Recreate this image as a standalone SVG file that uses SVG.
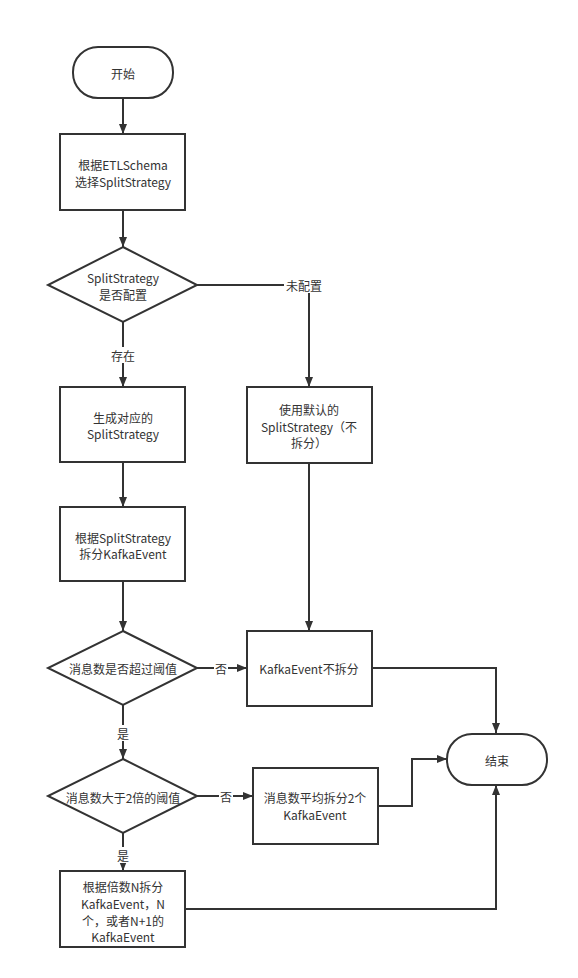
<svg xmlns="http://www.w3.org/2000/svg" width="578" height="978" viewBox="0 0 578 978">
<style>
.s{fill:#fff;stroke:#333;stroke-width:2}
.c{fill:none;stroke:#333;stroke-width:2}
text{font-family:"Noto Sans CJK SC","Liberation Sans",sans-serif;font-size:12px;fill:#333;text-anchor:middle;dominant-baseline:central}
.lb{fill:#fff}
</style>
<defs>
<marker id="a" markerWidth="10" markerHeight="8" refX="10" refY="4" orient="auto" markerUnits="userSpaceOnUse">
<path d="M0,0 L10,4 L0,8 Z" fill="#333"/>
</marker>
</defs>
<rect width="578" height="978" fill="#fff"/>
<g id="connectors">
<path class="c" d="M123,98 V134" marker-end="url(#a)"/>
<path class="c" d="M123,210 V247" marker-end="url(#a)"/>
<path class="c" d="M197,285 H309 V387" marker-end="url(#a)"/>
<path class="c" d="M123,322 V387" marker-end="url(#a)"/>
<path class="c" d="M123,462 V507" marker-end="url(#a)"/>
<path class="c" d="M123,581 V631" marker-end="url(#a)"/>
<path class="c" d="M309,463 V631" marker-end="url(#a)"/>
<path class="c" d="M197,668 H247" marker-end="url(#a)"/>
<path class="c" d="M372,668 H496 V733" marker-end="url(#a)"/>
<path class="c" d="M123,705 V759" marker-end="url(#a)"/>
<path class="c" d="M197,796 H253" marker-end="url(#a)"/>
<path class="c" d="M378,806 H412 V759 H447" marker-end="url(#a)"/>
<path class="c" d="M123,833 V871" marker-end="url(#a)"/>
<path class="c" d="M185,909 H496 V785" marker-end="url(#a)"/>
<rect class="lb" x="284" y="277" width="40" height="16"/>
<text x="304" y="285">未配置</text>
<rect class="lb" x="110" y="347" width="26" height="16"/>
<text x="123" y="355">存在</text>
<rect class="lb" x="214" y="660" width="14" height="16"/>
<text x="221" y="668">否</text>
<rect class="lb" x="116" y="725" width="14" height="16"/>
<text x="123" y="733">是</text>
<rect class="lb" x="219" y="788" width="14" height="16"/>
<text x="226" y="796">否</text>
<rect class="lb" x="116" y="847" width="14" height="16"/>
<text x="123" y="855">是</text>
</g>
<g id="start">
<rect class="s" x="73" y="47" width="100" height="51" rx="25" ry="25"/>
<text x="123" y="73">开始</text>
</g>
<g id="select">
<rect class="s" x="60" y="134" width="125" height="76"/>
<text x="123" y="164">根据ETLSchema</text>
<text x="123" y="181">选择SplitStrategy</text>
</g>
<g id="configured">
<polygon class="s" points="123,247 197,285 123,322 48,285"/>
<text x="123" y="277">SplitStrategy</text>
<text x="123" y="294">是否配置</text>
</g>
<g id="generate">
<rect class="s" x="60" y="387" width="125" height="75"/>
<text x="123" y="417">生成对应的</text>
<text x="123" y="433">SplitStrategy</text>
</g>
<g id="default">
<rect class="s" x="247" y="387" width="125" height="76"/>
<text x="309" y="409">使用默认的</text>
<text x="309" y="426">SplitStrategy（不</text>
<text x="309" y="442">拆分）</text>
</g>
<g id="split">
<rect class="s" x="60" y="507" width="125" height="74"/>
<text x="123" y="537">根据SplitStrategy</text>
<text x="123" y="553">拆分KafkaEvent</text>
</g>
<g id="exceed">
<polygon class="s" points="123,631 197,668 123,705 48,668"/>
<text x="123" y="668">消息数是否超过阈值</text>
</g>
<g id="nosplit">
<rect class="s" x="247" y="631" width="125" height="75"/>
<text x="309" y="668">KafkaEvent不拆分</text>
</g>
<g id="end">
<rect class="s" x="447" y="734" width="100" height="51" rx="25" ry="25"/>
<text x="497" y="760">结束</text>
</g>
<g id="double">
<polygon class="s" points="123,759 197,796 123,833 48,796"/>
<text x="123" y="797">消息数大于2倍的阈值</text>
</g>
<g id="half">
<rect class="s" x="253" y="768" width="125" height="76"/>
<text x="315" y="797">消息数平均拆分2个</text>
<text x="315" y="814">KafkaEvent</text>
</g>
<g id="multi">
<rect class="s" x="60" y="871" width="125" height="76"/>
<text x="123" y="886">根据倍数N拆分</text>
<text x="123" y="903">KafkaEvent，N</text>
<text x="123" y="920">个，或者N+1的</text>
<text x="123" y="936">KafkaEvent</text>
</g>
</svg>
